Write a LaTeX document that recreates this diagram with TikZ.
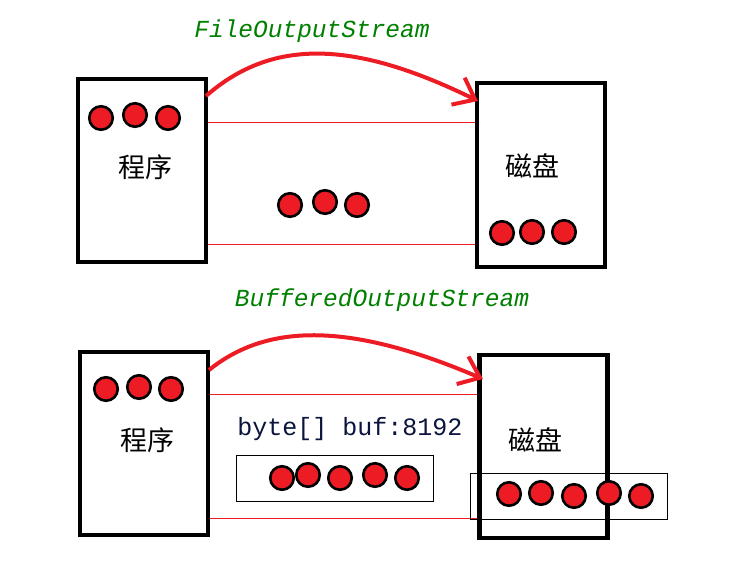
\documentclass[tikz,border=0pt]{standalone}
\usepackage{fontspec}
\setmonofont{Liberation Mono}
\newfontfamily\cjk{Noto Sans CJK SC}
\usetikzlibrary{arrows.meta}
\definecolor{dotred}{RGB}{237,28,36}
\definecolor{ttgreen}{RGB}{0,128,0}
\definecolor{ttnavy}{RGB}{10,20,60}
\begin{document}
\begin{tikzpicture}[x=1pt,y=-1pt,
  box/.style={draw=black,line width=4.5pt,minimum width=#1,inner sep=0pt,fill=none},
  box/.default={128pt},
  dot/.style={circle,draw=black,line width=2.6pt,fill=dotred,minimum size=23.5pt,inner sep=0pt},
  buffer/.style={draw=dotred,line width=0.8pt},
  thinbox/.style={draw=black,line width=0.8pt},
  flow/.style={draw=dotred,line width=4pt,-{Straight Barb[length=19pt,width=30pt,line width=4pt]}},
  title/.style={text=ttgreen,font=\ttfamily\itshape\fontsize{24.5}{24.5}\selectfont},
  cn/.style={font=\cjk\fontsize{27}{27}\selectfont},
  code/.style={text=ttnavy,font=\ttfamily\fontsize{25}{25}\selectfont}]
\useasboundingbox (0,0) rectangle (730,585);
% ---------- top ----------
\node[title] (t1) at (312,31) {FileOutputStream};
\node[buffer,minimum width=272pt,minimum height=122pt,inner sep=0pt] (b1) at (342,183) {};
\node[box,minimum height=183pt] (p1) at (142,170.5) {};
\node[box,minimum height=184pt] (d1) at (541,175) {};
\node[cn] (p1t) at (145,167) {程序};
\node[cn] (d1t) at (532,166) {磁盘};
\node[dot] (a1) at (101,118) {};
\node[dot] (a2) at (135,115) {};
\node[dot] (a3) at (168,118) {};
\node[dot] (m1) at (290,205) {};
\node[dot] (m2) at (325,202) {};
\node[dot] (m3) at (357,205) {};
\node[dot] (r1) at (502,233) {};
\node[dot] (r2) at (532,232) {};
\node[dot] (r3) at (564,232) {};
\coordinate (s1) at (206,96);
\coordinate (e1) at (478,101);
\draw[flow] (s1) .. controls (270,40) and (350,38) .. (e1);
% ---------- bottom ----------
\node[title] (t2) at (382,300) {BufferedOutputStream};
\node[buffer,minimum width=273pt,minimum height=124pt,inner sep=0pt] (b2) at (344.5,456) {};
\node[box,minimum height=183pt] (p2) at (144,443.5) {};
\node[box,minimum height=183pt] (d2) at (543.5,446.5) {};
\node[cn] (p2t) at (147,440) {程序};
\node[cn] (d2t) at (535,440) {磁盘};
\node[code] (bt) at (350,429) {byte[] buf:8192};
\node[thinbox,minimum width=197pt,minimum height=46pt,inner sep=0pt] (ib) at (334.5,478) {};
\node[thinbox,minimum width=197pt,minimum height=46pt,inner sep=0pt] (ob) at (568.5,496) {};
\node[dot] (c1) at (106,389) {};
\node[dot] (c2) at (139,387) {};
\node[dot] (c3) at (171,389) {};
\node[dot] (i1) at (282,478) {};
\node[dot] (i2) at (308,475) {};
\node[dot] (i3) at (340,478) {};
\node[dot] (i4) at (375,475) {};
\node[dot] (i5) at (407,478) {};
\node[dot] (o1) at (509,494) {};
\node[dot] (o2) at (541,493) {};
\node[dot] (o3) at (574,496) {};
\node[dot] (o4) at (609,493) {};
\node[dot] (o5) at (641,496) {};
\coordinate (s2) at (209,370);
\coordinate (e2) at (483,379);
\draw[flow] (s2) .. controls (265,325) and (345,320) .. (e2);
\end{tikzpicture}
\end{document}
